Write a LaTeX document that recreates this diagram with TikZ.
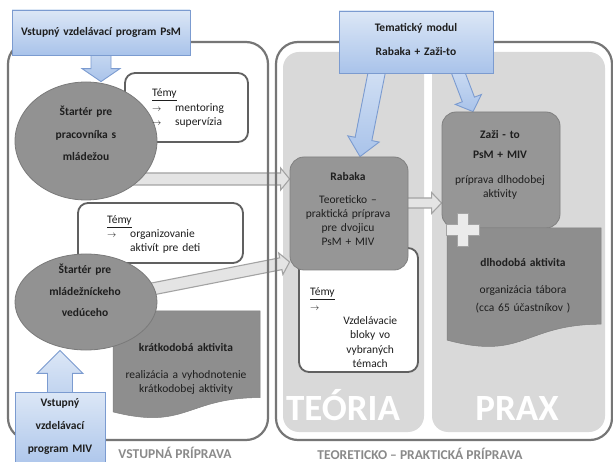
\documentclass[tikz,border=0pt]{standalone}
\usepackage{fontspec}
\setmainfont{Carlito}
\usetikzlibrary{shapes.geometric,calc}
\definecolor{framegray}{HTML}{767676}
\definecolor{panelgray}{HTML}{D9D9D9}
\definecolor{temyborder}{HTML}{606060}
\definecolor{ellfill}{HTML}{929292}
\definecolor{ellborder}{HTML}{7A7A7A}
\definecolor{boxfill}{HTML}{969696}
\definecolor{boxborder}{HTML}{808080}
\definecolor{docfill}{HTML}{8E8E8E}
\definecolor{docborder}{HTML}{808080}
\definecolor{arrfill}{HTML}{E4E4E4}
\definecolor{arrborder}{HTML}{A3A3A3}
\definecolor{bluetop}{HTML}{DCE7F6}
\definecolor{bluebot}{HTML}{A9C3EA}
\definecolor{blueborder}{HTML}{7B9BD0}
\definecolor{textdark}{HTML}{1E1E1E}
\definecolor{labelgray}{HTML}{8A8A8A}
\definecolor{plusfill}{HTML}{EBEBEB}
\pgfdeclarelayer{frame}
\pgfdeclarelayer{conn}
\pgfdeclarelayer{frameborder}
\pgfsetlayers{frame,conn,frameborder,main}
\newcommand\temyarr{{\fontsize{9}{9}\selectfont$\rightarrow$}}
% block arrow: [style]{start}{tip}{half shaft}{half head}{head length}
\newcommand\blkarrow[6][]{%
  \coordinate (blkh) at ($(#3)!#6!(#2)$);
  \path[#1] ($(#2)!#4!90:(#3)$) -- ($(blkh)!#4!90:(#3)$) -- ($(blkh)!#5!90:(#3)$)
    -- (#3) -- ($(blkh)!#5!-90:(#3)$) -- ($(blkh)!#4!-90:(#3)$) -- ($(#2)!#4!-90:(#3)$) -- cycle;
}
\begin{document}
\begin{tikzpicture}[x=1pt,y=-1pt,
  every node/.style={text=textdark, font=\fontsize{11.5}{14}\selectfont},
  frm/.style={fill=white, inner sep=0pt, outer sep=0pt, rounded corners=22pt},
  frmline/.style={draw=framegray, line width=2.2pt, rounded corners=22pt},
  panel/.style={fill=panelgray, rounded corners=16pt, inner sep=0pt, outer sep=0pt},
  temybox/.style={draw=temyborder, line width=1.8pt, fill=white, rounded corners=10pt, inner sep=0pt},
  ell/.style={ellipse, draw=ellborder, line width=0.8pt, fill=ellfill, inner sep=0pt},
  darkbox/.style={draw=boxborder, line width=0.8pt, fill=boxfill, rounded corners=14pt, inner sep=0pt},
  bluebox/.style={draw=blueborder, line width=0.9pt, top color=bluetop, bottom color=bluebot, inner sep=0pt},
  docshape/.style={fill=docfill, draw=docborder, line width=0.5pt},
  txt/.style={inner sep=0pt, align=center, text width=#1, anchor=base},
  ltxt/.style={inner sep=0pt, align=left, text width=#1, anchor=base west},
  grayarr/.style={fill=arrfill, draw=arrborder, line width=1.1pt, line join=miter},
  bluearr/.style={top color=bluetop, bottom color=bluebot, draw=blueborder, line width=0.9pt, line join=miter},
  reg/.style={font=\fontsize{11.5}{#1}\selectfont},
  bld/.style={font=\bfseries\fontsize{11.5}{#1}\selectfont},
  biglbl/.style={inner sep=0pt, anchor=base, text=white, font=\bfseries\fontsize{37}{37}\selectfont},
  sectlbl/.style={inner sep=0pt, anchor=base, text=labelgray, font=\bfseries\fontsize{13.5}{14}\selectfont},
]
\useasboundingbox (0,0) rectangle (613,462);

% ---------- frames and panels ----------
\begin{pgfonlayer}{frame}
\fill[white] (0,0) rectangle (613,462);
\node[frm, minimum width=260pt, minimum height=398pt] (vframe) at (138,241) {};
\node[frm, minimum width=336pt, minimum height=398pt] (tframe) at (444,241) {};
\node[panel, minimum width=141pt, minimum height=380pt] (tpanel) at (353.5,242) {};
\node[panel, minimum width=173pt, minimum height=380pt] (ppanel) at (518.5,242) {};
\end{pgfonlayer}
\begin{pgfonlayer}{frameborder}
\draw[frmline] (vframe.north west) rectangle (vframe.south east);
\draw[frmline] (tframe.north west) rectangle (tframe.south east);
\end{pgfonlayer}

% ---------- boxes ----------
\node[temybox, minimum width=123pt, minimum height=69pt] (temy1) at (186.5,107.5) {};
\node[temybox, minimum width=165pt, minimum height=60pt] (temy2) at (160.5,233) {};
\node[temybox, minimum width=119pt, minimum height=124pt] (temy3) at (358.5,310) {};
\path[docshape] (113,311) -- (260,311) -- (260,397.6) .. controls (186.5,397.6) and (186.5,430.6) .. (113,411.9) -- cycle;
\node[ell, minimum width=142pt, minimum height=118pt] (e1) at (86,141) {};
\node[ell, minimum width=142pt, minimum height=96pt] (e2) at (86,302) {};
\node[darkbox, minimum width=118pt, minimum height=113pt] (rab) at (349,213.5) {};
\node[darkbox, minimum width=118pt, minimum height=116pt] (zaz) at (501,170) {};
\path[docshape] (447,228) -- (601,228) -- (601,324.2) .. controls (524,324.2) and (524,360.9) .. (447,340.1) -- cycle;
\filldraw[fill=plusfill, draw=arrborder, line width=1pt] (457,214) -- (468,214) -- (468,225) -- (479,225) -- (479,236) -- (468,236) -- (468,247) -- (457,247) -- (457,236) -- (446,236) -- (446,225) -- (457,225) -- cycle;
\node[bluebox, minimum width=178pt, minimum height=45pt] (psm) at (101,32.5) {};
\node[bluebox, minimum width=154pt, minimum height=62pt] (tem) at (416,42) {};
\node[bluebox, minimum width=90pt, minimum height=80pt] (miv) at (60,432) {};

% ---------- texts ----------
\node[txt=178pt, bld=14pt] (psmtxt) at (101,36) {Vstupný vzdelávací program PsM};
\node[txt=154pt, bld=24pt] (temtxt) at (416,32) {Tematický modul\\Rabaka + Zaži-to};
\node[txt=140pt, bld=22.5pt] (e1txt) at (86,116) {Štartér pre\\pracovníka s\\mládežou};
\node[txt=140pt, bld=21.5pt] (e2txt) at (85,274) {Štartér pre\\mládežníckeho\\vedúceho};
\node[ltxt=110pt, reg=14.5pt] (t1txt) at (152,97) {\underline{Témy}\\\makebox[23pt][l]{\temyarr}mentoring\\\makebox[23pt][l]{\temyarr}supervízia};
\node[ltxt=130pt, reg=14pt] (t2txt) at (107,224) {\underline{Témy}\\\makebox[23pt][l]{\temyarr}organizovanie\\\hspace*{23pt}aktivít pre deti};
\node[ltxt=105pt, reg=14.3pt] (t3txt) at (310,296) {\underline{Témy}\\\rlap{\temyarr}\hspace*{60pt}\makebox[0pt]{Vzdelávacie}\\\hspace*{60pt}\makebox[0pt]{bloky vo}\\\hspace*{60pt}\makebox[0pt]{vybraných}\\\hspace*{60pt}\makebox[0pt]{témach}};
\node[txt=147pt, reg=13.3pt] (kratxt) at (186,351) {\textbf{krátkodobá aktivita}\\[14.7pt]realizácia a vyhodnotenie\\krátkodobej aktivity};
\node[txt=90pt, bld=23pt] (mivtxt) at (60,406) {Vstupný\\vzdelávací\\program MIV};
\node[txt=118pt, reg=13.7pt] (rabtxt) at (348,181) {\textbf{Rabaka}\\[9.3pt]Teoreticko –\\praktická príprava\\pre dvojicu\\PsM + MIV};
\node[txt=118pt, reg=13.5pt] (zaztxt) at (500,139) {\textbf{Zaži - to}\\[6.5pt]\textbf{PsM + MIV}\\[11.5pt]príprava dlhodobej\\aktivity};
\node[txt=154pt, reg=18pt] (dlhtxt) at (523,267) {\textbf{dlhodobá aktivita}\\[9pt]organizácia tábora\\(cca 65 účastníkov )};
\node[biglbl] (teoria) at (343,420) {TEÓRIA};
\node[biglbl] (prax) at (517,420) {PRAX};
\node[sectlbl] (vstlbl) at (175,458) {VSTUPNÁ PRÍPRAVA};
\node[sectlbl] (teolbl) at (420,459.5) {TEORETICKO – PRAKTICKÁ PRÍPRAVA};

% ---------- connectors ----------
\begin{pgfonlayer}{conn}
\coordinate (a1t) at ([yshift=34.5pt]rab.west);
\coordinate (a1s) at (e1.center |- a1t);
\blkarrow[grayarr]{a1s}{a1t}{6pt}{11pt}{9pt}
\coordinate (a2t) at ([yshift=-48.5pt]rab.west);
\blkarrow[grayarr]{e2.center}{a2t}{6pt}{11pt}{9pt}
\coordinate (a3s) at ([yshift=10.5pt]rab.center);
\coordinate (a3t) at (a3s -| zaz.west);
\blkarrow[grayarr]{a3s}{a3t}{5pt}{10.5pt}{10pt}
\coordinate (b1t) at (psm.south |- e1.north);
\blkarrow[bluearr]{psm.center}{b1t}{10pt}{19pt}{13pt}
\coordinate (b2s0) at ([xshift=-39.5pt]tem.south);
\coordinate (b2t) at ([xshift=11pt]rab.north);
\coordinate (b2s) at ($(b2s0)!-0.3!(b2t)$);
\blkarrow[bluearr]{b2s}{b2t}{8.5pt}{16pt}{18pt}
\coordinate (b3s0) at ([xshift=42.5pt]tem.south);
\coordinate (b3t) at ([xshift=-28pt]zaz.north);
\coordinate (b3s) at ($(b3s0)!-0.6!(b3t)$);
\blkarrow[bluearr]{b3s}{b3t}{6.5pt}{14pt}{13pt}
\coordinate (b4t) at (miv.center |- e2.south);
\blkarrow[bluearr]{miv.center}{b4t}{12.5pt}{23pt}{23pt}
\end{pgfonlayer}
\end{tikzpicture}
\end{document}
